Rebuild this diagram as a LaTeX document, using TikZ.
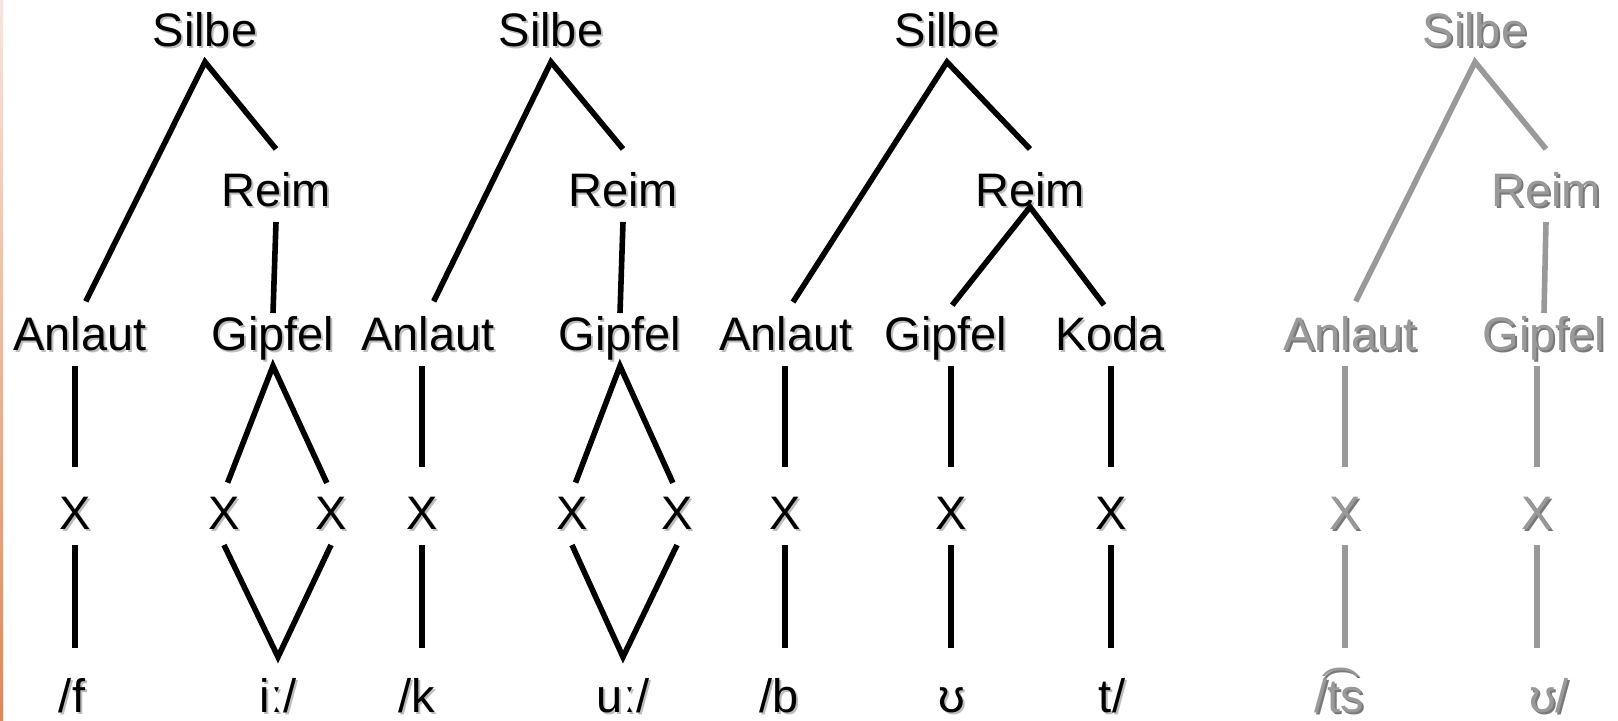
\documentclass[tikz,border=0pt]{standalone}
\usepackage{fontspec}
\setmainfont{Liberation Sans}
\usepackage{tikz}

\definecolor{shd}{gray}{0.74}
\definecolor{lgrey}{gray}{0.6}
\definecolor{striptop}{HTML}{F7E6DE}
\definecolor{stripbot}{HTML}{DB885A}
\newcommand{\sh}[1]{\makebox[0pt][l]{\hspace{1pt}\raisebox{-1pt}{\textcolor{shd}{#1}}}#1}

\tikzset{
	lbl/.style={anchor=base, font=\fontsize{23.5}{28}\selectfont, text height=17.5pt, text depth=6pt, inner sep=1.5pt, outer sep=0pt},
	ln/.style={line width=2.8pt},
	pale/.style={lgrey, execute at begin node={\colorlet{shd}{gray!95!black}}}
}

\begin{document}
\begin{tikzpicture}[x=0.5pt, y=-0.5pt]
		\useasboundingbox (0,0) rectangle (1618,721);
		\shade[top color=striptop, bottom color=stripbot] (0,0) rectangle (3,721);

			\node[lbl] (s1) at (205,47) {\sh{Silbe}};
			\node[lbl] (r1) at (276,207) {\sh{Reim}};
			\node[lbl] (a1) at (80,351) {\sh{Anlaut}};
			\node[lbl] (g1) at (273,351) {\sh{Gipfel}};
			\node[lbl] (x1a) at (75,530) {\sh{X}};
			\node[lbl] (x1b) at (224,530) {\sh{X}};
			\node[lbl] (x1c) at (331,530) {\sh{X}};
			\node[lbl] (p1a) at (72,712) {\sh{/f}};
			\node[lbl] (p1b) at (278,712) {\sh{iː/}};

			\node[lbl] (s2) at (551,47) {\sh{Silbe}};
			\node[lbl] (r2) at (623,207) {\sh{Reim}};
			\node[lbl] (a2) at (428,351) {\sh{Anlaut}};
			\node[lbl] (g2) at (620,351) {\sh{Gipfel}};
			\node[lbl] (x2a) at (422,530) {\sh{X}};
			\node[lbl] (x2b) at (572,530) {\sh{X}};
			\node[lbl] (x2c) at (677,530) {\sh{X}};
			\node[lbl] (p2a) at (417,712) {\sh{/k}};
			\node[lbl] (p2b) at (623,712) {\sh{uː/}};

			\node[lbl] (s3) at (947,47) {\sh{Silbe}};
			\node[lbl] (r3) at (1030,207) {\sh{Reim}};
			\node[lbl] (a3) at (786,351) {\sh{Anlaut}};
			\node[lbl] (g3) at (946,351) {\sh{Gipfel}};
			\node[lbl] (k3) at (1110,351) {\sh{Koda}};
			\node[lbl] (x3a) at (785,530) {\sh{X}};
			\node[lbl] (x3b) at (951,530) {\sh{X}};
			\node[lbl] (x3c) at (1111,530) {\sh{X}};
			\node[lbl] (p3a) at (779,712) {\sh{/b}};
			\node[lbl] (p3b) at (952,712) {\sh{ʊ}};
			\node[lbl] (p3c) at (1112,712) {\sh{t/}};

			\node[lbl, pale] (s4) at (1475,47) {\sh{Silbe}};
			\node[lbl, pale] (r4) at (1546,207) {\sh{Reim}};
			\node[lbl, pale] (a4) at (1350,351) {\sh{Anlaut}};
			\node[lbl, pale] (g4) at (1544,351) {\sh{Gipfel}};
			\node[lbl, pale] (x4a) at (1345,530) {\sh{X}};
			\node[lbl, pale] (x4b) at (1537,530) {\sh{X}};
			\node[lbl, pale] (p4a) at (1339,712) {\sh{/t͡s}};
			\node[lbl, pale] (p4b) at (1549,712) {\sh{ʊ/}};

			\draw[ln, shorten <=6.5pt] (a1.north) -- (s1.south) -- ([yshift=10pt]r1.north);
			\draw[ln] (r1.south) -- (g1.north);
			\draw[ln, shorten <=12.5pt] (x1a.north) -- (x1a.north |- a1.south);
			\draw[ln, shorten >=13pt] (x1a.south) -- (x1a.south |- p1a.north);
			\draw[ln, shorten <=5pt, shorten >=5pt] (x1b.north) -- (g1.south) -- (x1c.north);
			\draw[ln] (x1b.south) -- ([yshift=8.5pt]p1b.north) -- (x1c.south);

			\draw[ln, shorten <=6.5pt] (a2.north) -- (s2.south) -- ([yshift=10pt]r2.north);
			\draw[ln] (r2.south) -- (g2.north);
			\draw[ln, shorten <=12.5pt] (x2a.north) -- (x2a.north |- a2.south);
			\draw[ln, shorten >=13pt] (x2a.south) -- (x2a.south |- p2a.north);
			\draw[ln, shorten <=5pt, shorten >=5pt] (x2b.north) -- (g2.south) -- (x2c.north);
			\draw[ln] (x2b.south) -- ([yshift=8.5pt]p2b.north) -- (x2c.south);

			\draw[ln, shorten <=6.5pt] (a3.north) -- (s3.south) -- ([yshift=10pt]r3.north);
			\draw[ln, shorten <=5pt, shorten >=5pt] (g3.north) -- (r3.base) -- (k3.north);
			\draw[ln, shorten <=12.5pt] (x3a.north) -- (x3a.north |- a3.south);
			\draw[ln, shorten >=13pt] (x3a.south) -- (x3a.south |- p3a.north);
			\draw[ln, shorten <=12.5pt] (x3b.north) -- (x3b.north |- g3.south);
			\draw[ln, shorten >=13pt] (x3b.south) -- (x3b.south |- p3b.north);
			\draw[ln, shorten <=12.5pt] (x3c.north) -- (x3c.north |- k3.south);
			\draw[ln, shorten >=13pt] (x3c.south) -- (x3c.south |- p3c.north);

			\draw[ln, pale, shorten <=6.5pt] (a4.north) -- (s4.south) -- ([yshift=10pt]r4.north);
			\draw[ln, pale] (r4.south) -- (g4.north);
			\draw[ln, pale, shorten <=12.5pt] (x4a.north) -- (x4a.north |- a4.south);
			\draw[ln, pale, shorten >=13pt] (x4a.south) -- (x4a.south |- p4a.north);
			\draw[ln, pale, shorten <=12.5pt] (x4b.north) -- (x4b.north |- g4.south);
			\draw[ln, pale, shorten >=13pt] (x4b.south) -- (x4b.south |- p4b.north);
\end{tikzpicture}
\end{document}
